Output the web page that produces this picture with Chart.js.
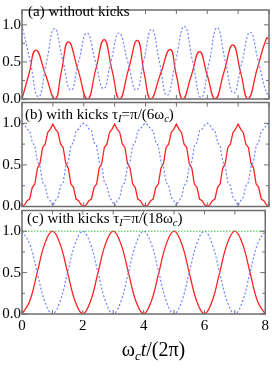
<!DOCTYPE html>
<html>
<head>
<meta charset="utf-8">
<script src="https://cdn.jsdelivr.net/npm/chart.js@4.4.1/dist/chart.umd.min.js"></script>
<style>
  html, body { margin: 0; padding: 0; background: #fff; }
  #wrap { position: relative; width: 272px; height: 377px; overflow: hidden;
          font-family: "Liberation Serif", "Times New Roman", serif; color: #000; }
  #wrap canvas { position: absolute; left: 0; top: 0; }
  .lbl { position: absolute; font-size: 15px; line-height: 15px; white-space: nowrap; }
  .lbl sub { font-size: 10.5px; vertical-align: -3px; line-height: 0; }
  #xtitle { position: absolute; top: 339px; left: 30px; width: 247px; text-align: center;
            font-size: 20px; line-height: 20px; white-space: nowrap; }
  #xtitle sub { font-size: 13px; vertical-align: -4px; line-height: 0; }
</style>
</head>
<body>
<div id="wrap">
  <canvas id="panel-a" width="272" height="377"></canvas>
  <canvas id="panel-b" width="272" height="377"></canvas>
  <canvas id="panel-c" width="272" height="377"></canvas>
  <div class="lbl" style="left:28px;top:4px">(a) without kicks</div>
  <div class="lbl" style="left:25px;top:107px">(b) with kicks τ<sub><i>I</i></sub>=π/(6ω<sub><i>c</i></sub>)</div>
  <div class="lbl" style="left:27px;top:211px">(c) with kicks τ<sub><i>I</i></sub>=π/(18ω<sub><i>c</i></sub>)</div>
  <div id="xtitle">ω<sub><i>c</i></sub><i>t</i>/(2π)</div>
</div>
<script>
// tick values
const xTickValues = [0, 2, 4, 6, 8];
const xMarks = [0, 1, 2, 3, 4, 5, 6, 7, 8];
const yTickValues = [0, 0.5, 1.0];
const yMarks = [0, 0.25, 0.5, 0.75, 1.0];

// (a) without kicks
const aRedT = [0, 0.22, 0.45, 0.76, 1.07, 1.28, 1.50, 1.81, 2.12, 2.39, 2.66, 2.91, 3.16, 3.45, 3.74, 3.96,
               4.17, 4.48, 4.80, 5.00, 5.21, 5.48, 5.75, 6.00, 6.26, 6.54, 6.83, 7.08, 7.32, 7.62, 7.92, 8.00];
const aRed = [0, 0.33, 0.66, 0.33, 0, 0.38, 0.77, 0.40, 0, 0.40, 0.80, 0.40, 0, 0.40, 0.79, 0.34,
              0, 0.33, 0.67, 0.32, 0, 0.31, 0.64, 0.32, 0, 0.36, 0.73, 0.36, 0, 0.41, 0.82, 0.81];
const aBlueT = [0, 0.26, 0.53, 0.79, 1.05, 1.31, 1.58, 1.84, 2.10, 2.37, 2.64, 2.89, 3.14, 3.42, 3.70, 3.95,
                4.20, 4.45, 4.70, 4.98, 5.26, 5.53, 5.80, 6.06, 6.32, 6.58, 6.85, 7.12, 7.39, 7.66, 7.93, 8.00];
const aBlue = [1.00, 0.52, 0.03, 0.49, 0.95, 0.54, 0.12, 0.51, 0.89, 0.52, 0.14, 0.52, 0.89, 0.51, 0.12, 0.53,
               0.94, 0.50, 0.05, 0.52, 0.98, 0.50, 0.02, 0.49, 0.96, 0.52, 0.08, 0.49, 0.90, 0.49, 0.07, 0.08];

// (b) kicks, sampled every 1/12 of a unit
const bStep = 1 / 12;
const bRed = [
  0.00,0.02,0.07,0.09,0.23,0.27,0.46,0.52,0.71,0.75,0.89,0.93,0.99,0.93,0.89,0.75,0.71,0.52,0.46,0.27,0.23,0.09,0.07,0.02,
  0.00,0.02,0.07,0.09,0.23,0.27,0.46,0.52,0.71,0.75,0.89,0.93,0.99,0.93,0.89,0.75,0.71,0.52,0.46,0.27,0.23,0.09,0.07,0.02,
  0.00,0.02,0.07,0.09,0.23,0.27,0.46,0.52,0.71,0.75,0.89,0.93,0.99,0.93,0.89,0.75,0.71,0.52,0.46,0.27,0.23,0.09,0.07,0.02,
  0.00,0.02,0.07,0.09,0.23,0.27,0.46,0.52,0.71,0.75,0.89,0.93,0.99,0.93,0.89,0.75,0.71,0.52,0.46,0.27,0.23,0.09,0.07,0.02,
  0.00];
const bBlue = [
  1.00,0.98,0.93,0.91,0.77,0.73,0.54,0.48,0.29,0.25,0.11,0.07,0.01,0.07,0.11,0.25,0.29,0.48,0.54,0.73,0.77,0.91,0.93,0.98,
  1.00,0.98,0.93,0.91,0.77,0.73,0.54,0.48,0.29,0.25,0.11,0.07,0.01,0.07,0.11,0.25,0.29,0.48,0.54,0.73,0.77,0.91,0.93,0.98,
  1.00,0.98,0.93,0.91,0.77,0.73,0.54,0.48,0.29,0.25,0.11,0.07,0.01,0.07,0.11,0.25,0.29,0.48,0.54,0.73,0.77,0.91,0.93,0.98,
  1.00,0.98,0.93,0.91,0.77,0.73,0.54,0.48,0.29,0.25,0.11,0.07,0.01,0.07,0.11,0.25,0.29,0.48,0.54,0.73,0.77,0.91,0.93,0.98,
  1.00];

// (c) finer kicks
const cT = [0, 0.25, 0.5, 0.75, 1, 1.25, 1.5, 1.75, 2, 2.25, 2.5, 2.75, 3, 3.25, 3.5, 3.75,
            4, 4.25, 4.5, 4.75, 5, 5.25, 5.5, 5.75, 6, 6.25, 6.5, 6.75, 7, 7.25, 7.5, 7.75, 8];
const cRed = [0, 0.15, 0.5, 0.85, 1, 0.85, 0.5, 0.15, 0, 0.15, 0.5, 0.85, 1, 0.85, 0.5, 0.15,
              0, 0.15, 0.5, 0.85, 1, 0.85, 0.5, 0.15, 0, 0.15, 0.5, 0.85, 1, 0.85, 0.5, 0.15, 0];
const cBlue = [1, 0.85, 0.5, 0.15, 0, 0.15, 0.5, 0.85, 1, 0.85, 0.5, 0.15, 0, 0.15, 0.5, 0.85,
               1, 0.85, 0.5, 0.15, 0, 0.15, 0.5, 0.85, 1, 0.85, 0.5, 0.15, 0, 0.15, 0.5, 0.85, 1];
const cSumT = [0, 8];
const cSum = [1, 1];

const frameColor = '#6e6e6e';
const tickFont = { family: '"Liberation Serif", "Times New Roman", serif', size: 15 };

const pts = (xs, ys) => xs.map((x, i) => ({ x: x, y: ys[i] }));
const stepPts = (ys) => ys.map((y, i) => ({ x: i * bStep, y: y }));

// tension > 0 gives the smooth curves, 0 keeps the straight kick segments
function redLine(data, tension) {
  return { data: data, borderColor: '#ff2222', borderWidth: 1.3, tension: tension, fill: false };
}
function blueLine(data, tension) {
  return { data: data, borderColor: '#6f83ff', borderWidth: 1.2, borderDash: [2, 2], tension: tension, fill: false };
}

// box around each panel with inward tick marks
const frameTicks = {
  id: 'frameTicks',
  afterDatasetsDraw(chart) {
    const { ctx, chartArea: a, scales: { x, y } } = chart;
    ctx.save();
    ctx.strokeStyle = frameColor;
    ctx.lineWidth = 1;
    ctx.beginPath();
    xMarks.forEach(v => {
      const px = x.getPixelForValue(v);
      ctx.moveTo(px, a.bottom); ctx.lineTo(px, a.bottom - 4);
      ctx.moveTo(px, a.top); ctx.lineTo(px, a.top + 4);
    });
    yMarks.forEach(v => {
      const py = y.getPixelForValue(v);
      const len = yTickValues.includes(v) ? 5 : 3;
      ctx.moveTo(a.left, py); ctx.lineTo(a.left + len, py);
      ctx.moveTo(a.right, py); ctx.lineTo(a.right - len, py);
    });
    ctx.stroke();
    ctx.lineWidth = 1.5;
    ctx.strokeRect(a.left, a.top, a.right - a.left, a.bottom - a.top);
    ctx.restore();
  }
};

// builds one panel, then nudges the padding so the plot box lands on [top, bottom]
function makePanel(id, datasets, top, bottom, yMax, showX) {
  const pad = { top: top, bottom: 377 - bottom - (showX ? 20 : 0), left: 0, right: 3 };
  const chart = new Chart(document.getElementById(id), {
    type: 'line',
    data: { datasets: datasets },
    options: {
      responsive: false,
      animation: false,
      devicePixelRatio: 1,
      layout: { padding: pad },
      plugins: { legend: { display: false }, tooltip: { enabled: false } },
      elements: { point: { radius: 0 } },
      scales: {
        x: {
          type: 'linear', min: 0, max: 8, display: showX,
          grid: { display: false, drawTicks: false }, border: { display: false },
          afterBuildTicks: s => { s.ticks = xTickValues.map(v => ({ value: v })); },
          ticks: { font: tickFont, color: '#000', padding: 3, maxRotation: 0, callback: v => String(v) }
        },
        y: {
          min: 0, max: yMax,
          grid: { display: false, drawTicks: false }, border: { display: false },
          afterBuildTicks: s => { s.ticks = yTickValues.map(v => ({ value: v })); },
          afterFit: s => { s.width = 22; },
          ticks: { font: tickFont, color: '#000', padding: 1, callback: v => Number(v).toFixed(1) }
        }
      }
    },
    plugins: [frameTicks]
  });
  for (let i = 0; i < 3; i++) {
    const a = chart.chartArea;
    pad.top += top - a.top;
    pad.bottom += a.bottom - bottom;
    chart.options.layout.padding = { top: pad.top, bottom: pad.bottom, left: 0, right: 3 };
    chart.update();
  }
  return chart;
}

makePanel('panel-a', [
  blueLine(pts(aBlueT, aBlue), 0.5),
  redLine(pts(aRedT, aRed), 0.5)
], 1, 99, 1.2, false);

makePanel('panel-b', [
  blueLine(stepPts(bBlue), 0),
  redLine(stepPts(bRed), 0)
], 102.5, 206.5, 1.25, false);

makePanel('panel-c', [
  { data: pts(cSumT, cSum), borderColor: '#3fbf3f', borderWidth: 1, borderDash: [1.5, 1.5], fill: false },
  blueLine(pts(cT, cBlue), 0.4),
  redLine(pts(cT, cRed), 0.4)
], 210.5, 314, 1.25, true);
</script>
</body>
</html>
